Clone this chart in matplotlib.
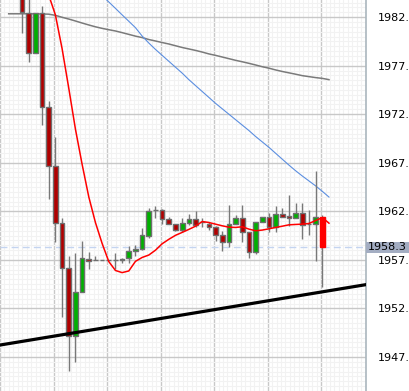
import matplotlib
matplotlib.use("Agg")
import matplotlib.pyplot as plt
import numpy as np
from matplotlib.patches import Rectangle
from matplotlib.transforms import blended_transform_factory

# ---------------- data ----------------
opens = [1985.5, 1982.47, 1978.26, 1982.47, 1972.73, 1966.62, 1960.75, 1956.17, 1949.14, 1953.72,
         1957.1, 1956.95, 1956.95, 1956.95, 1956.95, 1956.95, 1957.18, 1957.87, 1958.07, 1959.5,
         1962.14, 1962.1, 1961.19, 1960.68, 1960.11, 1960.78, 1961.19, 1960.9, 1960.68, 1960.34,
         1959.6, 1958.88, 1960.68, 1961.36, 1959.9, 1957.79, 1960.92, 1961.46, 1960.34, 1961.77,
         1961.53, 1961.33, 1961.87, 1960.68, 1960.68, 1961.46]
highs = [1986.5, 1984.2, 1982.47, 1983.15, 1973.34, 1969.68, 1961.36, 1957.36, 1957.69, 1958.99,
         1957.8, 1957.35, 1956.95, 1956.95, 1957.69, 1957.2, 1958.48, 1958.58, 1960.24, 1962.38,
         1962.55, 1962.2, 1961.43, 1960.68, 1961.36, 1961.7, 1962.07, 1961.3, 1960.95, 1960.54,
         1960.0, 1962.65, 1961.64, 1962.65, 1959.9, 1960.92, 1961.46, 1961.87, 1962.55, 1962.3,
         1963.67, 1962.9, 1962.9, 1962.1, 1966.18, 1961.6]
lows = [1980.4, 1977.38, 1978.26, 1970.86, 1963.32, 1958.88, 1951.1, 1945.57, 1946.52, 1953.72,
        1956.1, 1956.95, 1956.95, 1956.95, 1956.09, 1956.65, 1956.7, 1957.36, 1957.97, 1959.25,
        1961.3, 1960.68, 1960.68, 1960.0, 1959.83, 1960.6, 1960.34, 1960.34, 1960.07, 1958.9,
        1957.9, 1958.3, 1960.68, 1958.88, 1957.18, 1957.6, 1960.92, 1959.83, 1959.9, 1961.46,
        1960.5, 1961.33, 1959.15, 1959.6, 1956.9, 1954.23]
closes = [1982.5, 1978.26, 1982.47, 1972.73, 1966.62, 1960.75, 1956.17, 1949.14, 1953.72, 1957.18,
          1956.9, 1956.95, 1956.95, 1956.95, 1956.95, 1957.1, 1957.87, 1958.07, 1959.6, 1962.04,
          1962.14, 1961.26, 1960.68, 1960.11, 1960.78, 1961.19, 1960.62, 1960.85, 1960.41, 1959.6,
          1958.88, 1960.68, 1961.29, 1959.9, 1957.79, 1960.92, 1961.46, 1960.34, 1961.77, 1961.46,
          1961.36, 1961.87, 1960.62, 1960.68, 1961.46, 1958.3]

ma_red_start = 3
ma_red = [1986.5, 1984.27, 1982.23, 1978.77, 1974.7, 1970.48, 1966.86, 1963.5, 1960.85, 1958.7,
          1956.83, 1955.91, 1955.69, 1955.86, 1956.85, 1957.25, 1957.5, 1958.0, 1958.66, 1959.12,
          1959.53, 1959.83, 1960.14, 1960.47, 1960.95, 1960.85, 1960.68, 1960.51, 1960.37, 1960.34,
          1960.41, 1960.17, 1960.0, 1960.07, 1960.2, 1960.34, 1960.47, 1960.61, 1960.65, 1960.68,
          1960.75, 1961.05, 1961.36, 1960.78]

ma_gray_start = -2
ma_gray = [1982.34, 1982.34, 1982.34, 1982.34, 1982.33, 1982.32, 1982.3, 1982.18, 1981.98, 1981.8,
           1981.6, 1981.39, 1981.19, 1981.0, 1980.84, 1980.7, 1980.57, 1980.4, 1980.22, 1980.04,
           1979.89, 1979.69, 1979.54, 1979.38, 1979.23, 1979.05, 1978.87, 1978.72, 1978.57, 1978.4,
           1978.21, 1978.06, 1977.89, 1977.72, 1977.55, 1977.4, 1977.24, 1977.07, 1976.89, 1976.74,
           1976.56, 1976.4, 1976.26, 1976.12, 1975.97, 1975.87, 1975.77, 1975.69, 1975.56]

ma_blue_start = 11
ma_blue = [1984.88, 1984.22, 1983.56, 1982.9, 1982.23, 1981.57, 1980.91, 1980.05, 1979.33, 1978.67,
           1978.06, 1977.45, 1976.84, 1976.23, 1975.56, 1974.95, 1974.34, 1973.73, 1973.12, 1972.56,
           1972.0, 1971.44, 1970.88, 1970.32, 1969.71, 1969.15, 1968.59, 1967.98, 1967.37, 1966.76,
           1966.18, 1965.64, 1965.13, 1964.62, 1964.06, 1963.47]

trend_x = [7, 45]
trend_y = [1949.4, 1953.71]

current_price = 1958.3
current_label = "1958.3"

ytick_values = [1947, 1952, 1957, 1962, 1967, 1972, 1977, 1982]
ytick_labels = ["1947.", "1952.", "1957.", "1962.", "1967.", "1972.", "1977.", "1982."]

# ---------------- figure ----------------
W, H = 410, 391
fig = plt.figure(figsize=(W / 100, H / 100), dpi=100)
ax = fig.add_axes([0, 0, 365.7 / W, 1])
ax.set_facecolor("white")

ax.set_xlim(-1.9, 50.34)
ax.set_ylim(1943.95, 1983.76)

# grid
ax.set_yticks(ytick_values)
ax.set_yticklabels(ytick_labels)
ax.set_yticks(np.arange(1943.5, 1984.0, 0.5), minor=True)
xmaj = np.arange(-3.3, 52, 8.02)
ax.set_xticks(xmaj)
ax.set_xticks(np.arange(-3.3, 52, 8.02 / 12), minor=True)
ax.grid(which="minor", color="#f2f2f2", linewidth=0.8, zorder=0)
ax.grid(which="major", color="#c8c8c8", linewidth=1.0, zorder=0.5)
ax.set_axisbelow(True)

ax.yaxis.tick_right()
ax.tick_params(axis="y", which="both", length=0, pad=9, labelsize=8, labelcolor="black")
ax.tick_params(axis="x", which="both", length=0, labelbottom=False)
for s in ["left", "top", "bottom"]:
    ax.spines[s].set_visible(False)
ax.spines["right"].set_color("#aab6be")
ax.spines["right"].set_linewidth(1.2)

# current price dashed line
ax.axhline(current_price, color="#c4d4f0", linewidth=1.0, linestyle=(0, (5, 3)), zorder=1)

# moving averages
ax.plot(np.arange(len(ma_gray)) + ma_gray_start, ma_gray, color="#7a7a7a", linewidth=1.1, zorder=2)
ax.plot(np.arange(len(ma_blue)) + ma_blue_start, ma_blue, color="#5b8ee0", linewidth=0.8, zorder=2)

# candles
idx = np.arange(len(opens))
o = np.array(opens); c = np.array(closes); h = np.array(highs); l = np.array(lows)
ax.vlines(idx, l, h, color="#787878", linewidth=1.0, zorder=3)
body_w = 0.7
for i in idx:
    bottom = min(o[i], c[i])
    height = abs(c[i] - o[i])
    if i == len(idx) - 1:
        fc, ec = "#ff0000", "#ff0000"
    elif c[i] > o[i]:
        fc, ec = "#00b000", "#6e6e6e"
    elif c[i] < o[i]:
        fc, ec = "#b00000", "#6e6e6e"
    else:
        fc, ec = "#6e6e6e", "#6e6e6e"
    ax.bar(i, height, width=body_w, bottom=bottom, color=fc, edgecolor=ec,
           linewidth=1.0, zorder=4)

# red MA on top
ax.plot(np.arange(len(ma_red)) + ma_red_start, ma_red, color="#ff0000", linewidth=1.1, zorder=5)

# trend line
ax.axline((trend_x[0], trend_y[0]), (trend_x[1], trend_y[1]), color="black", linewidth=2.3, zorder=6)

# current price label box
tr = blended_transform_factory(fig.transFigure, ax.transData)
ax.add_patch(Rectangle((366.5 / W, current_price - 0.55), 1 - 366.5 / W, 1.1,
                       transform=tr, facecolor="#a3adc2", edgecolor="none",
                       clip_on=False, zorder=10))
ax.text(387.5 / W, current_price, current_label, transform=tr, ha="center", va="center",
        fontsize=8, color="black", zorder=11, clip_on=False)

fig.savefig("out.png", dpi=100)
